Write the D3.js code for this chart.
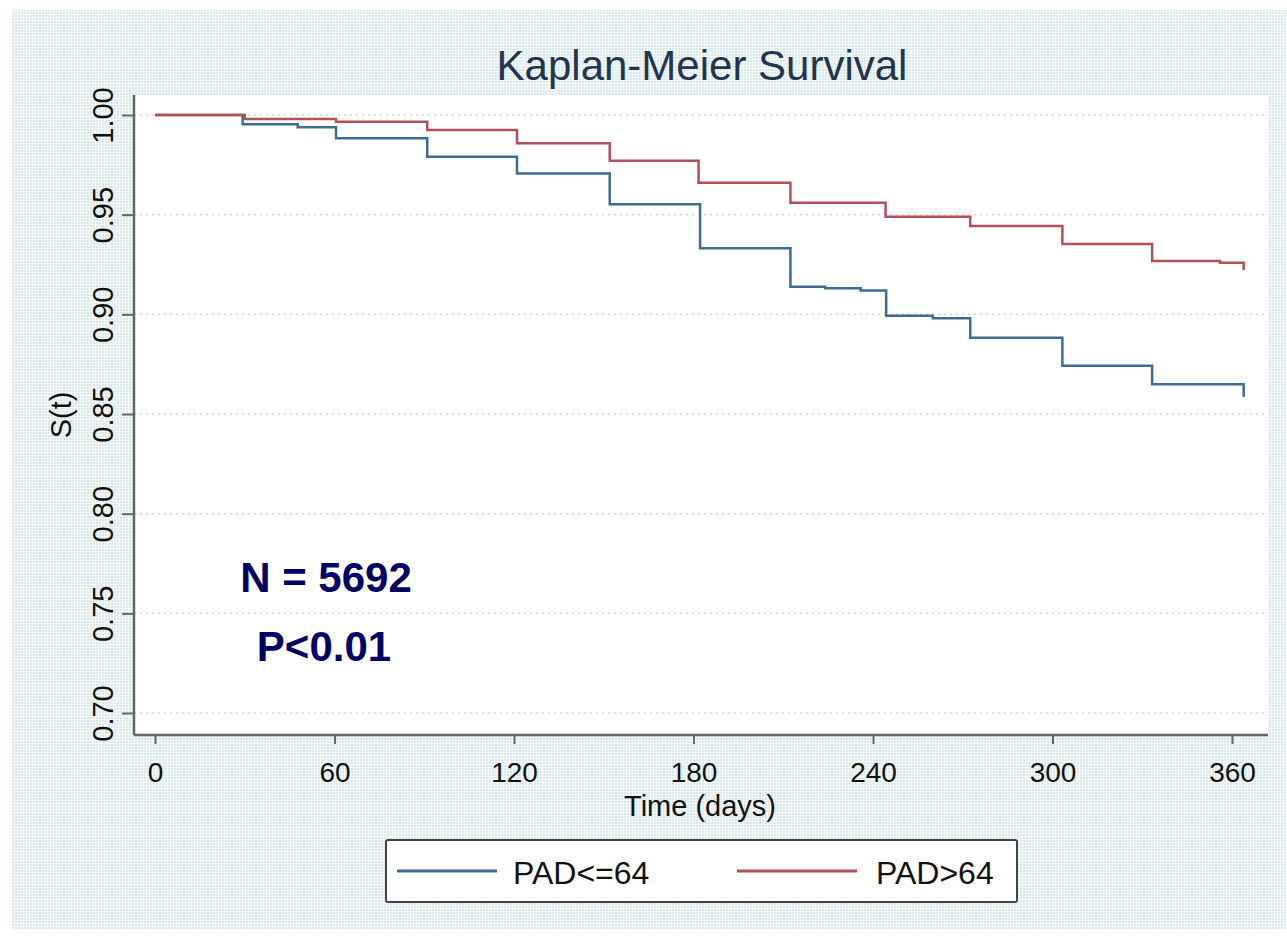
<!DOCTYPE html>
<html><head><meta charset="utf-8">
<script src="https://cdn.jsdelivr.net/npm/d3@7"></script>
<style>html,body{margin:0;padding:0;background:#fff;}svg{display:block;font-family:"Liberation Sans",Arial,sans-serif;}</style>
</head><body>
<script>
// Data (time in days, survival)
const seriesNames = ["PAD<=64", "PAD>64"];
const timesLow  = [0, 29.3, 47.7, 60.5, 91, 121, 152, 182.2, 212.4, 224, 235.9, 244.4, 260, 272.5, 303.3, 333.3, 363.9];
const survLow   = [1.000, 0.9953, 0.9938, 0.9883, 0.979, 0.9707, 0.9552, 0.9331, 0.9139, 0.9131, 0.9119, 0.8993, 0.898, 0.8883, 0.8742, 0.8649, 0.8587];
const timesHigh = [0, 30, 60.5, 91, 121, 152, 181.7, 212.4, 244.2, 272.5, 303.3, 333.3, 356, 363.9];
const survHigh  = [1.000, 0.998, 0.9966, 0.9925, 0.9858, 0.9771, 0.966, 0.956, 0.949, 0.9443, 0.9353, 0.9267, 0.9259, 0.9222];
const xTicks = [0, 60, 120, 180, 240, 300, 360];
const yTicks = [0.70, 0.75, 0.80, 0.85, 0.90, 0.95, 1.00];
const annotations = ["N = 5692", "P<0.01"];

const W = 1287, H = 939;
const svg = d3.select("body").append("svg").attr("width", W).attr("height", H);
const defs = svg.append("defs");
const pat = defs.append("pattern").attr("id","bg").attr("width",6).attr("height",6).attr("patternUnits","userSpaceOnUse");
pat.append("rect").attr("width",6).attr("height",6).attr("fill","#f4f9f9");
pat.append("rect").attr("x",0).attr("y",0).attr("width",2).attr("height",2).attr("fill","#d6ebeb");
pat.append("rect").attr("x",3).attr("y",0).attr("width",2).attr("height",2).attr("fill","#dde6ea");
pat.append("rect").attr("x",0).attr("y",3).attr("width",2).attr("height",2).attr("fill","#dde6ea");
pat.append("rect").attr("x",3).attr("y",3).attr("width",2).attr("height",2).attr("fill","#d6ebeb");
svg.append("rect").attr("width",W).attr("height",H).attr("fill","#fff");
svg.append("rect").attr("x",12).attr("y",10).attr("width",W-12).attr("height",H-20).attr("fill","url(#bg)");

const plot = {l:134, r:1268, t:95, b:735};
svg.append("rect").attr("x",plot.l).attr("y",plot.t).attr("width",plot.r-plot.l).attr("height",plot.b-plot.t).attr("fill","#fff");

const x = d3.scaleLinear().domain([0,360]).range([155,1232]);
const y = d3.scaleLinear().domain([0.70,1.00]).range([713,115]);

// gridlines
svg.append("g").selectAll("line").data(yTicks).join("line")
  .attr("x1",plot.l).attr("x2",plot.r).attr("y1",d=>y(d)).attr("y2",d=>y(d))
  .attr("stroke","#c9d9dc").attr("stroke-width",1.5).attr("stroke-dasharray","2,4");

// axes
const yAxis = d3.axisLeft(y).tickValues(yTicks).tickSize(12).tickPadding(8).tickFormat(d3.format(".2f"));
const gy = svg.append("g").attr("transform",`translate(${plot.l},0)`).call(yAxis);
gy.select(".domain").attr("d",`M0,${plot.t}V${plot.b}`).attr("stroke","#666").attr("stroke-width",2.5);
gy.selectAll(".tick line").attr("stroke","#666").attr("stroke-width",2);
gy.selectAll(".tick text").attr("font-size",29).attr("fill","#111")
  .attr("transform","translate(-21,0) rotate(-90)")
  .attr("x",0).attr("y",0).attr("dy","0").attr("text-anchor","middle");

const xAxis = d3.axisBottom(x).tickValues(xTicks).tickSize(9).tickPadding(10);
const gx = svg.append("g").attr("transform",`translate(0,${plot.b})`).call(xAxis);
gx.select(".domain").attr("d",`M${plot.l},0H${plot.r}`).attr("stroke","#666").attr("stroke-width",2.5);
gx.selectAll(".tick line").attr("stroke","#666").attr("stroke-width",2);
gx.selectAll(".tick text").attr("font-size",28).attr("fill","#111").attr("y",0).attr("dy","0").attr("transform","translate(0,47)");

// axis titles
svg.append("text").attr("x",700).attr("y",816).attr("text-anchor","middle").attr("font-size",29).attr("fill","#111").text("Time (days)");
svg.append("text").attr("transform","translate(71,415) rotate(-90)").attr("text-anchor","middle").attr("font-size",29).attr("fill","#111").text("S(t)");

// title
svg.append("text").attr("x",702).attr("y",80).attr("text-anchor","middle").attr("font-size",42).attr("fill","#1f3550").text("Kaplan-Meier Survival");

// step lines
const colors = ["#3f6b8f", "#b24f58"];
const line = d3.line().x(d=>x(d[0])).y(d=>y(d[1])).curve(d3.curveStepAfter);
const lowPts = timesLow.map((t,i)=>[t,survLow[i]]);
const highPts = timesHigh.map((t,i)=>[t,survHigh[i]]);
[[lowPts,0],[highPts,1]].forEach(([pts,i])=>{
  svg.append("path").attr("d",line(pts)).attr("fill","none").attr("stroke",colors[i]).attr("stroke-width",2.5);
});

// annotations
svg.append("text").attr("x",326).attr("y",592).attr("text-anchor","middle").attr("font-size",42).attr("font-weight","bold").attr("fill","#000066").text(annotations[0]);
svg.append("text").attr("x",324).attr("y",661).attr("text-anchor","middle").attr("font-size",42).attr("font-weight","bold").attr("fill","#000066").text(annotations[1]);

// legend
const lg = svg.append("g");
lg.append("rect").attr("x",386).attr("y",840).attr("width",631).attr("height",62).attr("fill","#fff").attr("stroke","#444").attr("stroke-width",2).attr("rx",2);
const legItems = [{x0:397,x1:497,tx:513},{x0:737,x1:857,tx:876}];
seriesNames.forEach((n,i)=>{
  lg.append("line").attr("x1",legItems[i].x0).attr("x2",legItems[i].x1).attr("y1",871).attr("y2",871).attr("stroke",colors[i]).attr("stroke-width",3);
  lg.append("text").attr("x",legItems[i].tx).attr("y",884).attr("font-size",32).attr("fill","#111").text(n);
});
</script>
</body></html>
